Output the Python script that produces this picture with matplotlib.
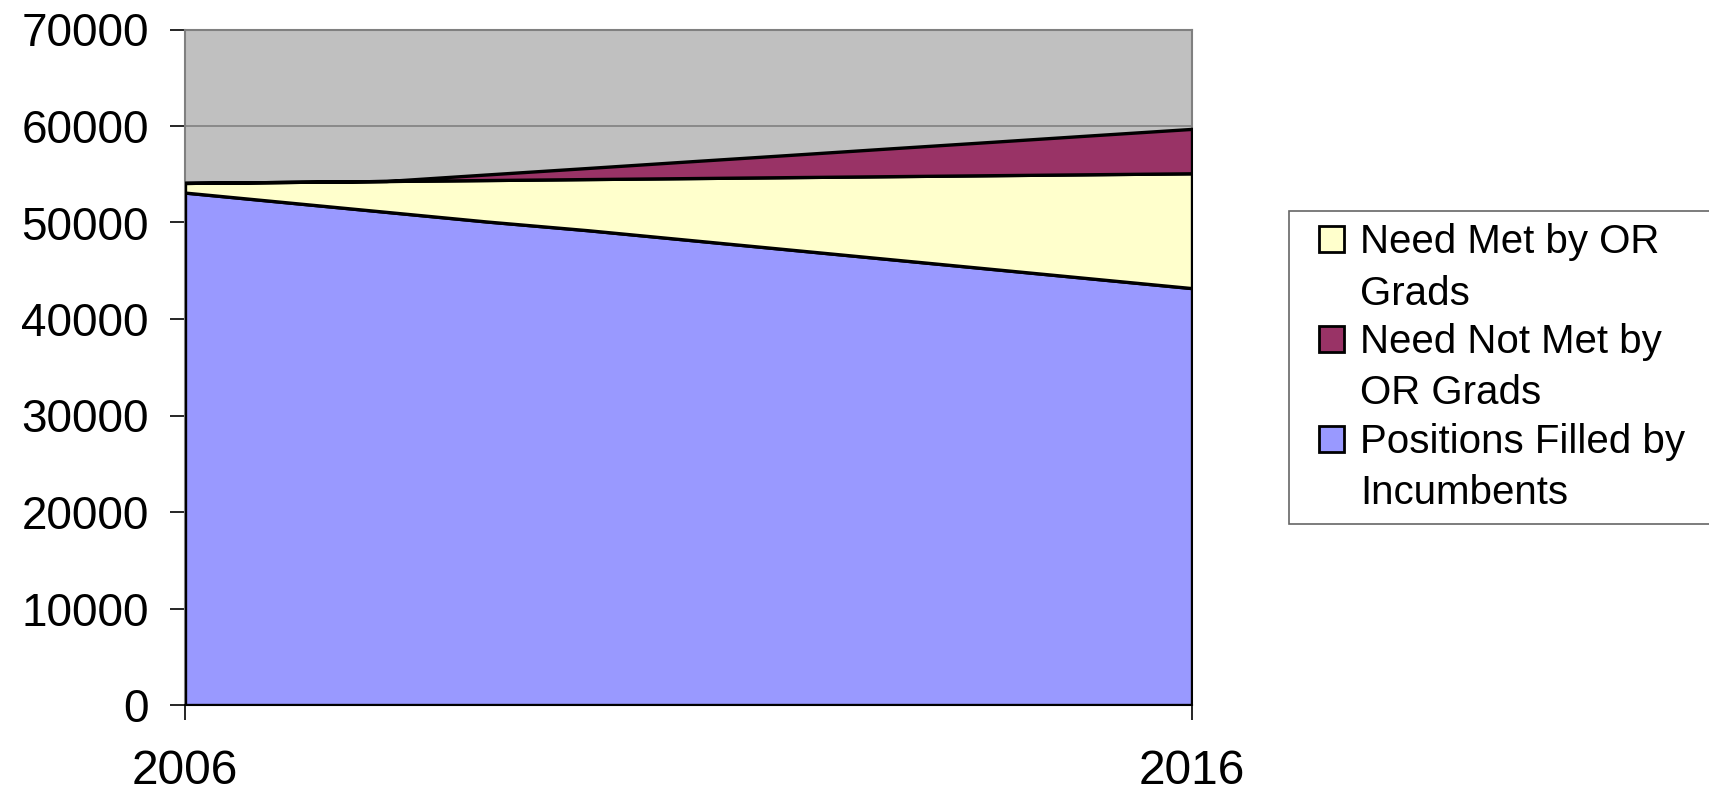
import matplotlib
matplotlib.use("Agg")
import matplotlib.pyplot as plt
import matplotlib.patches as mpatches
from matplotlib.legend_handler import HandlerPatch

plt.rcParams['font.family'] = ['Liberation Sans', 'DejaVu Sans']

# yearly values
years = [2006, 2007, 2008, 2009, 2010, 2011, 2012, 2013, 2014, 2015, 2016]
filled_by_incumbents = [53100, 52100, 51100, 50100, 49200, 48200, 47200, 46200, 45200, 44200, 43200]
need_met_by_or_grads = [1000, 2100, 3200, 4300, 5300, 6400, 7500, 8600, 9700, 10800, 11900]
need_not_met = [0, 0, 0, 580, 1150, 1730, 2300, 2880, 3450, 4030, 4600]

labels = ['Positions Filled by\nIncumbents', 'Need Met by OR\nGrads', 'Need Not Met by\nOR Grads']
colors = ['#9999FF', '#FFFFCC', '#993366']
x_ticks = [2006, 2016]
y_ticks = [0, 10000, 20000, 30000, 40000, 50000, 60000, 70000]

LEG_FS = 29
LINE_SP = 1.46


def square_on_first_line(legend, orig_handle, xdescent, ydescent, width, height, fontsize):
    # put the key box next to the first text line, like the original
    return mpatches.Rectangle((-xdescent + 13, -ydescent + 0.5 * LINE_SP * LEG_FS), width, height)


fig = plt.figure(figsize=(17.09, 7.94), dpi=100)
ax = fig.add_axes([185 / 1709, 1 - 705 / 794, (1192 - 185) / 1709, (705 - 29.5) / 794])
ax.set_facecolor('#C0C0C0')

ax.stackplot(years, filled_by_incumbents, need_met_by_or_grads, need_not_met,
             colors=colors, edgecolor='black', linewidth=2.4, zorder=3)

ax.set_xlim(2006, 2016)
ax.set_ylim(0, 70000)
ax.set_xticks(x_ticks)
ax.set_xticklabels([str(y) for y in x_ticks])
ax.set_yticks(y_ticks)
ax.set_yticklabels([str(v) for v in y_ticks])
ax.yaxis.grid(True, color='#808080', linewidth=1.2, zorder=1)
ax.set_axisbelow(True)

for side in ['top', 'right', 'left']:
    ax.spines[side].set_color('#808080')
    ax.spines[side].set_linewidth(1.5)
ax.spines['bottom'].set_color('black')
ax.spines['bottom'].set_linewidth(1.5)

ax.tick_params(axis='y', length=11, width=1.2, pad=15, labelsize=33, colors='black')
ax.tick_params(axis='x', length=11, width=1.2, pad=21, labelsize=34.5, colors='black')

# legend lists the top series first
order = [1, 2, 0]
handles = [mpatches.Patch(facecolor=colors[i], edgecolor='black', linewidth=2, label=labels[i])
           for i in order]
leg = fig.legend(handles=handles,
                 loc='upper left',
                 bbox_to_anchor=(1289 / 1709, 1 - 210.7 / 794, (1715 - 1289) / 1709, 0.0),
                 mode='expand', borderaxespad=0, fontsize=LEG_FS, frameon=True, fancybox=False,
                 edgecolor='#404040', handlelength=0.62, handleheight=0.62,
                 handletextpad=0.85, labelspacing=0.25, borderpad=0.3,
                 handler_map={mpatches.Patch: HandlerPatch(patch_func=square_on_first_line)})
leg.get_frame().set_linewidth(1.2)
for t in leg.get_texts():
    t.set_linespacing(LINE_SP)

fig.savefig('out.png', dpi=100)
